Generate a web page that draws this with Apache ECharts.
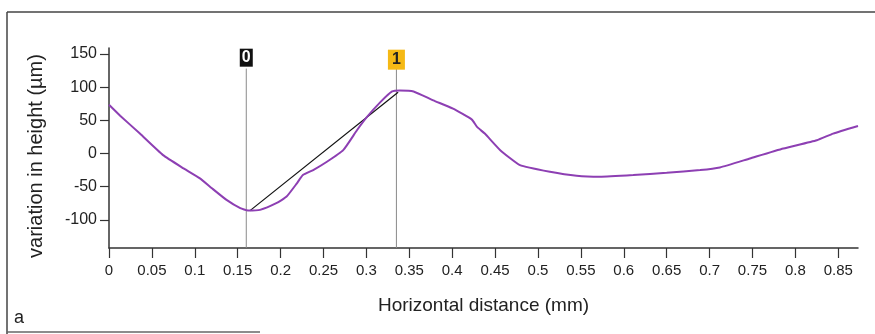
<!DOCTYPE html>
<html><head><meta charset="utf-8">
<script src="https://cdn.jsdelivr.net/npm/echarts@6/dist/echarts.min.js"></script>
<style>html,body{margin:0;padding:0;background:#fff}#c{width:875px;height:334px}</style>
</head><body><div id="c"></div>
<script>
// Profile data
const profileX = [0, 0.013, 0.036, 0.063, 0.087, 0.106, 0.12, 0.137, 0.153, 0.162, 0.176, 0.195, 0.207, 0.219, 0.226, 0.238, 0.254, 0.273, 0.289, 0.300, 0.316, 0.330, 0.339, 0.355, 0.378, 0.401, 0.423, 0.429, 0.438, 0.456, 0.479, 0.514, 0.545, 0.572, 0.611, 0.650, 0.689, 0.712, 0.747, 0.786, 0.825, 0.844, 0.873];
const profileY = [73.5, 57, 30, -2.5, -22.5, -37.5, -52.5, -70, -82.5, -86, -85, -75, -65, -45, -32.5, -25, -12.5, 5, 35, 54, 77, 93.5, 95, 93.5, 80, 67.5, 51, 40, 30, 5, -17.5, -27.5, -33.5, -35, -32.5, -29, -25, -21, -7.5, 7.5, 20, 30, 41.5];
// Chord between markers
const chordX = [0.164, 0.337];
const chordY = [-86.5, 92.4];
// Markers
const markerX = [0.16, 0.335];
const markerLabels = ['0', '1'];
const markerColors = ['#111111', '#f5b915'];
const markerTextColors = ['#ffffff', '#222222'];
// Axes
const xTicks = [0, 0.05, 0.1, 0.15, 0.2, 0.25, 0.3, 0.35, 0.4, 0.45, 0.5, 0.55, 0.6, 0.65, 0.7, 0.75, 0.8, 0.85];
const yTicks = [-100, -50, 0, 50, 100, 150];
const xRange = [0, 0.873];
const yRange = [-142.5, 159];
const markerLineTop = 128;
const markerBoxY = [144.4, 141.4];

const chart = echarts.init(document.getElementById('c'), null, {renderer: 'canvas'});
const series = [];
series.push({
  type: 'line', data: profileX.map((x, i) => [x, profileY[i]]), symbol: 'none',
  lineStyle: {color: '#8d3fb3', width: 2}, z: 5, smooth: 0.15
});
series.push({
  type: 'line', data: chordX.map((x, i) => [x, chordY[i]]), symbol: 'none',
  lineStyle: {color: '#111', width: 1.2}, z: 4
});
markerX.forEach((mx, i) => {
  series.push({
    type: 'line', data: [[mx, yRange[0]], [mx, markerLineTop]], symbol: 'none',
    lineStyle: {color: '#8a8a8a', width: 1}, z: 3
  });
  series.push({
    type: 'scatter', data: [[mx, markerBoxY[i]]], symbol: 'rect',
    symbolSize: i === 0 ? [13, 18] : [17, 20],
    itemStyle: {color: markerColors[i], opacity: 1}, z: 6,
    label: {show: true, position: 'inside', formatter: markerLabels[i], color: markerTextColors[i],
      fontFamily: 'Liberation Sans', fontSize: 16, fontWeight: 'bold'}
  });
});

chart.setOption({
  animation: false,
  backgroundColor: '#ffffff',
  grid: {left: 109, right: 17, top: 48, bottom: 86},
  xAxis: {
    type: 'value', min: xRange[0], max: xRange[1],
    name: 'Horizontal distance (mm)', nameLocation: 'middle', nameGap: 48,
    nameTextStyle: {fontFamily: 'Liberation Sans', fontSize: 19, color: '#222'},
    axisLine: {show: true, onZero: false, lineStyle: {color: '#333', width: 1.5}},
    axisTick: {show: true, length: 10, customValues: xTicks, lineStyle: {color: '#333', width: 1.2}},
    axisLabel: {customValues: xTicks, margin: 15, fontFamily: 'Liberation Sans', fontSize: 15, color: '#222',
      formatter: v => String(+v.toFixed(2))},
    splitLine: {show: false}
  },
  yAxis: {
    type: 'value', min: yRange[0], max: yRange[1],
    name: 'variation in height (µm)', nameLocation: 'middle', nameGap: 63,
    nameTextStyle: {fontFamily: 'Liberation Sans', fontSize: 20, color: '#222', padding: [0, 16, 0, 0]},
    axisLine: {show: true, onZero: false, lineStyle: {color: '#333', width: 1.5}},
    axisTick: {show: true, length: 9, customValues: yTicks, lineStyle: {color: '#333', width: 1.2}},
    axisLabel: {customValues: yTicks, margin: 12, fontFamily: 'Liberation Sans', fontSize: 16, color: '#222',
      formatter: v => String(v)},
    splitLine: {show: false}
  },
  graphic: [
    {type: 'line', shape: {x1: 7, y1: 12, x2: 875, y2: 12}, style: {stroke: '#444', lineWidth: 1.5}},
    {type: 'line', shape: {x1: 7, y1: 12, x2: 7, y2: 334}, style: {stroke: '#444', lineWidth: 1.5}},
    {type: 'line', shape: {x1: 7, y1: 332, x2: 260, y2: 332}, style: {stroke: '#666', lineWidth: 1.5}},
    {type: 'text', left: 14, top: 309, style: {text: 'a', fontFamily: 'Liberation Sans', fontSize: 18, fill: '#222'}}
  ],
  series: series
});
</script></body></html>
